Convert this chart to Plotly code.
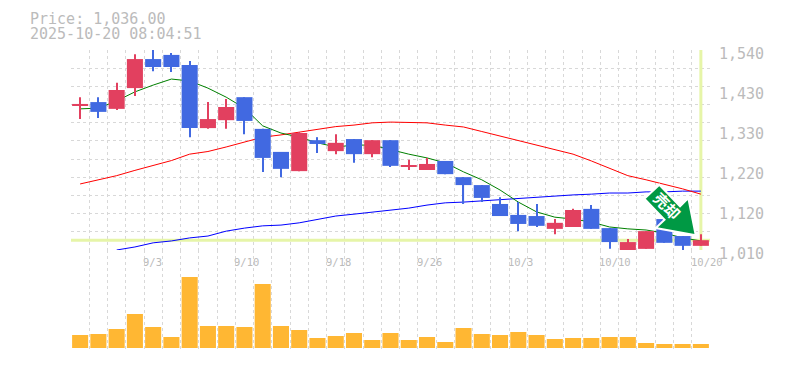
import plotly.graph_objects as go

# Candles (open, close, high, low)
opens  = [1392,1402,1384,1439,1516,1527,1500,1333,1354,1415,1331,1270,1219,1301,1272,1304,1264,1301,1230,1222,1246,1203,1182,1132,1103,1100,1066,1071,1119,1068,1010,1013,1092,1047,1021]
closes = [1397,1376,1434,1516,1495,1495,1333,1357,1389,1352,1254,1225,1320,1291,1294,1264,1301,1233,1233,1238,1211,1182,1148,1100,1079,1074,1082,1116,1066,1031,1031,1060,1029,1021,1036]
highs  = [1415,1415,1453,1529,1540,1532,1511,1402,1410,1415,1331,1270,1323,1309,1317,1304,1301,1301,1249,1254,1246,1203,1182,1150,1137,1132,1092,1119,1129,1068,1039,1060,1092,1047,1052]
lows   = [1357,1360,1381,1418,1484,1482,1309,1331,1331,1317,1217,1203,1219,1267,1264,1241,1256,1230,1222,1222,1211,1132,1137,1100,1060,1071,1052,1071,1066,1013,1010,1013,1029,1010,1021]

volume = [13,14,19,34,21,11,71,22,22,21,64,22,18,10,12,15,8,15,8,11,6,20,14,13,16,13,9,10,10,11,11,5,4,4,4]

ma_short = [1384,1386,1405,1429,1447,1463,1458,1439,1415,1386,1339,1320,1309,1294,1283,1288,1288,1275,1264,1254,1241,1217,1196,1169,1137,1111,1097,1092,1084,1071,1066,1063,1055,1042,1034]
ma_mid   = [1185,1196,1207,1221,1233,1247,1264,1271,1283,1296,1309,1315,1323,1331,1337,1341,1347,1349,1349,1347,1341,1336,1324,1312,1299,1286,1276,1264,1246,1227,1207,1196,1185,1172,1158]
ma_long  = [None,None,1010,1018,1029,1034,1042,1047,1060,1068,1074,1076,1082,1090,1100,1105,1111,1116,1121,1129,1135,1137,1140,1145,1148,1150,1153,1156,1158,1161,1161,1164,1164,1166,1166]

price_ticks = [1540,1434,1328,1222,1116,1010]
price_labels = ["1,540","1,430","1,330","1,220","1,120","1,010"]
date_slots = [3.5,8.5,13.5,18.5,23.5,28.5,33.5]
date_labels = ["9/3","9/10","9/18","9/26","10/3","10/10","10/20"]
last_price = 1036
title_lines = ["Price: 1,036.00","2025-10-20 08:04:51"]
signal_text = "売却"

RED = "#E2405F"; BLUE = "#4169E1"; ORANGE = "#FFB733"; GRID = "#D8D8D8"; AXIS = "#BBBBBB"; HILITE = "#E6F5A8"; ARROW = "#009944"
FONT = "DejaVu Sans Mono"
L, R, T, B = 70.5, 710, 50, 350
def px(xp): return (xp - L) / (R - L)
def py(yp): return (B - yp) / (B - T)

x = list(range(len(opens)))
col = [RED if c >= o else BLUE for o, c in zip(opens, closes)]

fig = go.Figure()
fig.add_trace(go.Scatter(x=[-0.5,34.5], y=[last_price]*2, mode="lines", line=dict(color=HILITE,width=3), zorder=0, xaxis="x", yaxis="y"))
fig.add_trace(go.Scatter(x=[34,34], y=[1010,1540], mode="lines", line=dict(color=HILITE,width=3), zorder=0, xaxis="x", yaxis="y"))
for s, c in ((ma_long,"#0000FF"),(ma_mid,"#FF0000"),(ma_short,"#008000")):
    fig.add_trace(go.Scatter(x=x, y=s, mode="lines", line=dict(color=c,width=1), zorder=1, connectgaps=False, xaxis="x", yaxis="y"))
fig.add_trace(go.Bar(x=x, base=lows, y=[h-l for h,l in zip(highs,lows)], width=0.06, marker=dict(color=col,line_width=0), zorder=2, xaxis="x", yaxis="y"))
fig.add_trace(go.Bar(x=x, base=[min(o,c) for o,c in zip(opens,closes)], y=[abs(o-c) for o,c in zip(opens,closes)], width=0.88, marker=dict(color=col,line_width=0), zorder=3, xaxis="x", yaxis="y"))
fig.add_trace(go.Bar(x=x, y=volume, width=0.88, marker=dict(color=ORANGE,line_width=0), xaxis="x2", yaxis="y2"))

minor_x = dict(dtick=1, tick0=-0.5, showgrid=True, gridcolor=GRID, griddash="3px,3px", gridwidth=1, ticks="")
common_x = dict(range=[-0.5,34.5], showgrid=False, zeroline=False, tickmode="array", tickvals=[], minor=minor_x, showline=True, linecolor=AXIS, linewidth=1, automargin=False)
fig.update_layout(
    width=785, height=370, autosize=False, showlegend=False,
    paper_bgcolor="white", plot_bgcolor="white", barmode="overlay",
    margin=dict(l=L, r=785-R, t=T, b=370-B, autoexpand=False),
    font=dict(family=FONT,color=AXIS),
    xaxis=dict(domain=[0,1], anchor="y", **common_x),
    xaxis2=dict(domain=[0,1], anchor="y2", **common_x),
    yaxis=dict(domain=[1/3,1], anchor="x", side="right", range=[1010,1540], zeroline=False, showgrid=False, automargin=False,
               tickmode="array", tickvals=price_ticks, ticktext=price_labels, tickfont=dict(size=15,color=AXIS),
               ticklabelstandoff=5, ticks="", showline=True, linecolor=AXIS, linewidth=1, ticklabelshift=4,
               minor=dict(dtick=530/11, tick0=1010, showgrid=True, gridcolor=GRID, griddash="3px,3px", gridwidth=1, ticks="")),
    yaxis2=dict(domain=[0,1/3], anchor="x2", side="right", range=[-2,98], zeroline=False, showgrid=False, automargin=False,
                showticklabels=False, ticks="", showline=True, linecolor=AXIS, linewidth=1),
)
ann = []
for line, yp in zip(title_lines, (19, 34)):
    ann.append(dict(text=line, xref="paper", yref="paper", x=px(28), y=py(yp), xanchor="left", yanchor="middle",
                    showarrow=False, borderpad=0, font=dict(size=15,color=AXIS,family=FONT)))
for s, l in zip(date_slots, date_labels):
    ann.append(dict(text=l, x=s, xref="x", y=py(262), yref="paper", xanchor="left", yanchor="middle", xshift=-3,
                    showarrow=False, font=dict(size=10.5,color=AXIS,family=FONT)))
fig.update_layout(annotations=ann)

arrow_pts = [(659.3,184.7),(680,206.3),(688.3,198),(695.7,235.3),(655.7,228),(664.5,219.8),(644.3,198.7)]
path = "M " + " L ".join(f"{px(a):.5f},{py(b):.5f}" for a, b in arrow_pts) + " Z"
fig.update_layout(shapes=[
    dict(type="path", path=path, xref="paper", yref="paper", fillcolor=ARROW, line=dict(color="white",width=2), layer="above"),
    dict(type="rect", xref="paper", yref="paper", x0=px(656), x1=px(676), y0=py(217), y1=py(197), fillcolor="rgba(0,0,0,0)", line=dict(width=0), layer="above",
         label=dict(text="<b>"+signal_text+"</b>", textangle=45, textposition="middle center", font=dict(size=15,color="white",family="Noto Sans CJK JP"))),
])
fig.write_html("out.html", config=dict(displayModeBar=False), post_script="document.body.style.margin='0';")
